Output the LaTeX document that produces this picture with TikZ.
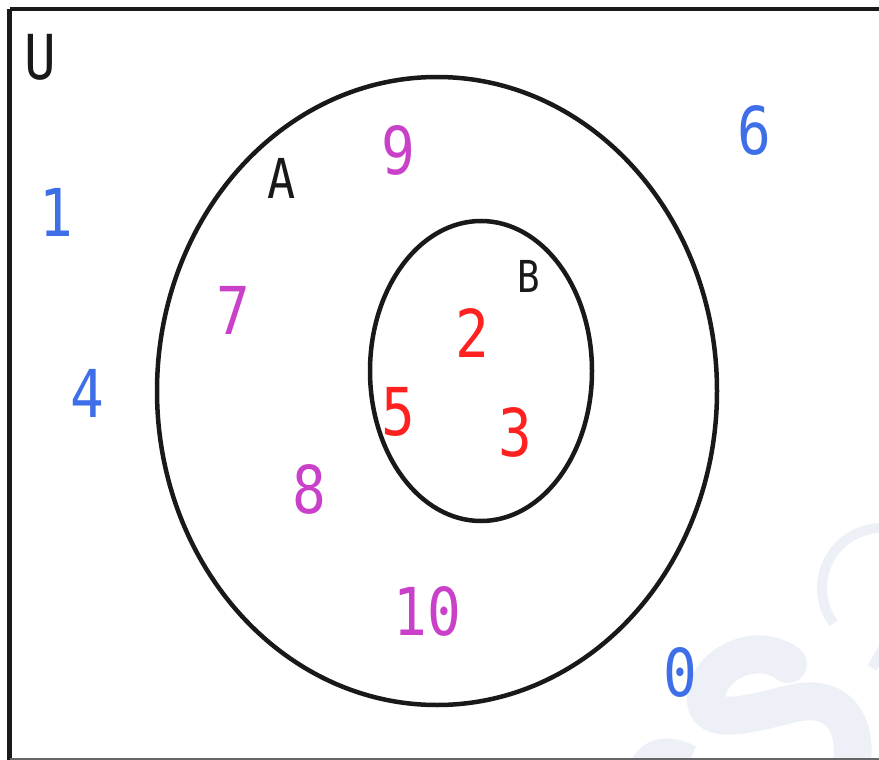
\documentclass[tikz,border=0pt]{standalone}
\usepackage{fontspec}
\usetikzlibrary{shapes.geometric}
\setmonofont{DejaVu Sans Mono}
\definecolor{cblue}{HTML}{3F6FE8}
\definecolor{cpurple}{HTML}{C940C9}
\definecolor{cred}{HTML}{FF2020}
\definecolor{cwm}{HTML}{EEF0F7}
\begin{document}
\begin{tikzpicture}[x=1pt,y=-1pt,
  setline/.style={line width=4.5pt,draw=black!90},
  lbl/.style={inner sep=0pt,font=\ttfamily\fontsize{62}{62}\selectfont,xscale=0.85,transform shape},
  num/.style={lbl,font=\ttfamily\fontsize{66}{66}\selectfont},
  setname/.style={lbl,text=black!90}]
\useasboundingbox (0,0) rectangle (879,760);
\begin{scope}
\clip (0,0) rectangle (879,760);
% faint watermark
\draw[cwm,line width=10pt] (882,588) ++(144:60) arc[start angle=144,end angle=268,radius=60];
\draw[cwm,line width=38pt,line cap=round] (788,664) .. controls (760,642) and (712,660) .. (706,695) .. controls (702,730) and (755,712) .. (795,703) .. controls (845,692) and (865,735) .. (845,790);
\draw[cwm,line width=30pt] (640,775) .. controls (650,752) and (665,748) .. (690,760);
\draw[cwm,line width=10pt] (885,645) -- (872,668);
\end{scope}
% universe frame
\draw[setline] (9.5,9) -- (885,9);
\draw[setline] (9.5,9) -- (9.5,765);
\draw[line width=2pt,black!60] (9.5,759) -- (885,759);
% sets
\node[setline,ellipse,minimum width=560pt,minimum height=628pt,inner sep=0pt,draw] (A) at (437,391) {};
\node[setline,ellipse,minimum width=222pt,minimum height=300pt,inner sep=0pt,draw] (B) at (481,371) {};
% labels
\node[setname] (lu) at (40,57) {U};
\node[setname,font=\ttfamily\fontsize{55}{55}\selectfont] (la) at (282,178) {A};
\node[setname,font=\ttfamily\fontsize{44}{44}\selectfont] (lb) at (529,276) {B};
\node[num,text=cblue] (n1) at (56,212) {1};
\node[num,text=cblue] (n4) at (87,393) {4};
\node[num,text=cblue] (n6) at (754,130) {6};
\node[num,text=cblue] (n0) at (680,672) {0};
\node[num,text=cpurple] (n9) at (398,150) {9};
\node[num,text=cpurple] (n7) at (233,310) {7};
\node[num,text=cpurple] (n8) at (309,489) {8};
\node[num,text=cpurple] (n10) at (427,611) {10};
\node[num,text=cred] (n2) at (472,333) {2};
\node[num,text=cred] (n5) at (398,412) {5};
\node[num,text=cred] (n3) at (515,432) {3};
\end{tikzpicture}
\end{document}
